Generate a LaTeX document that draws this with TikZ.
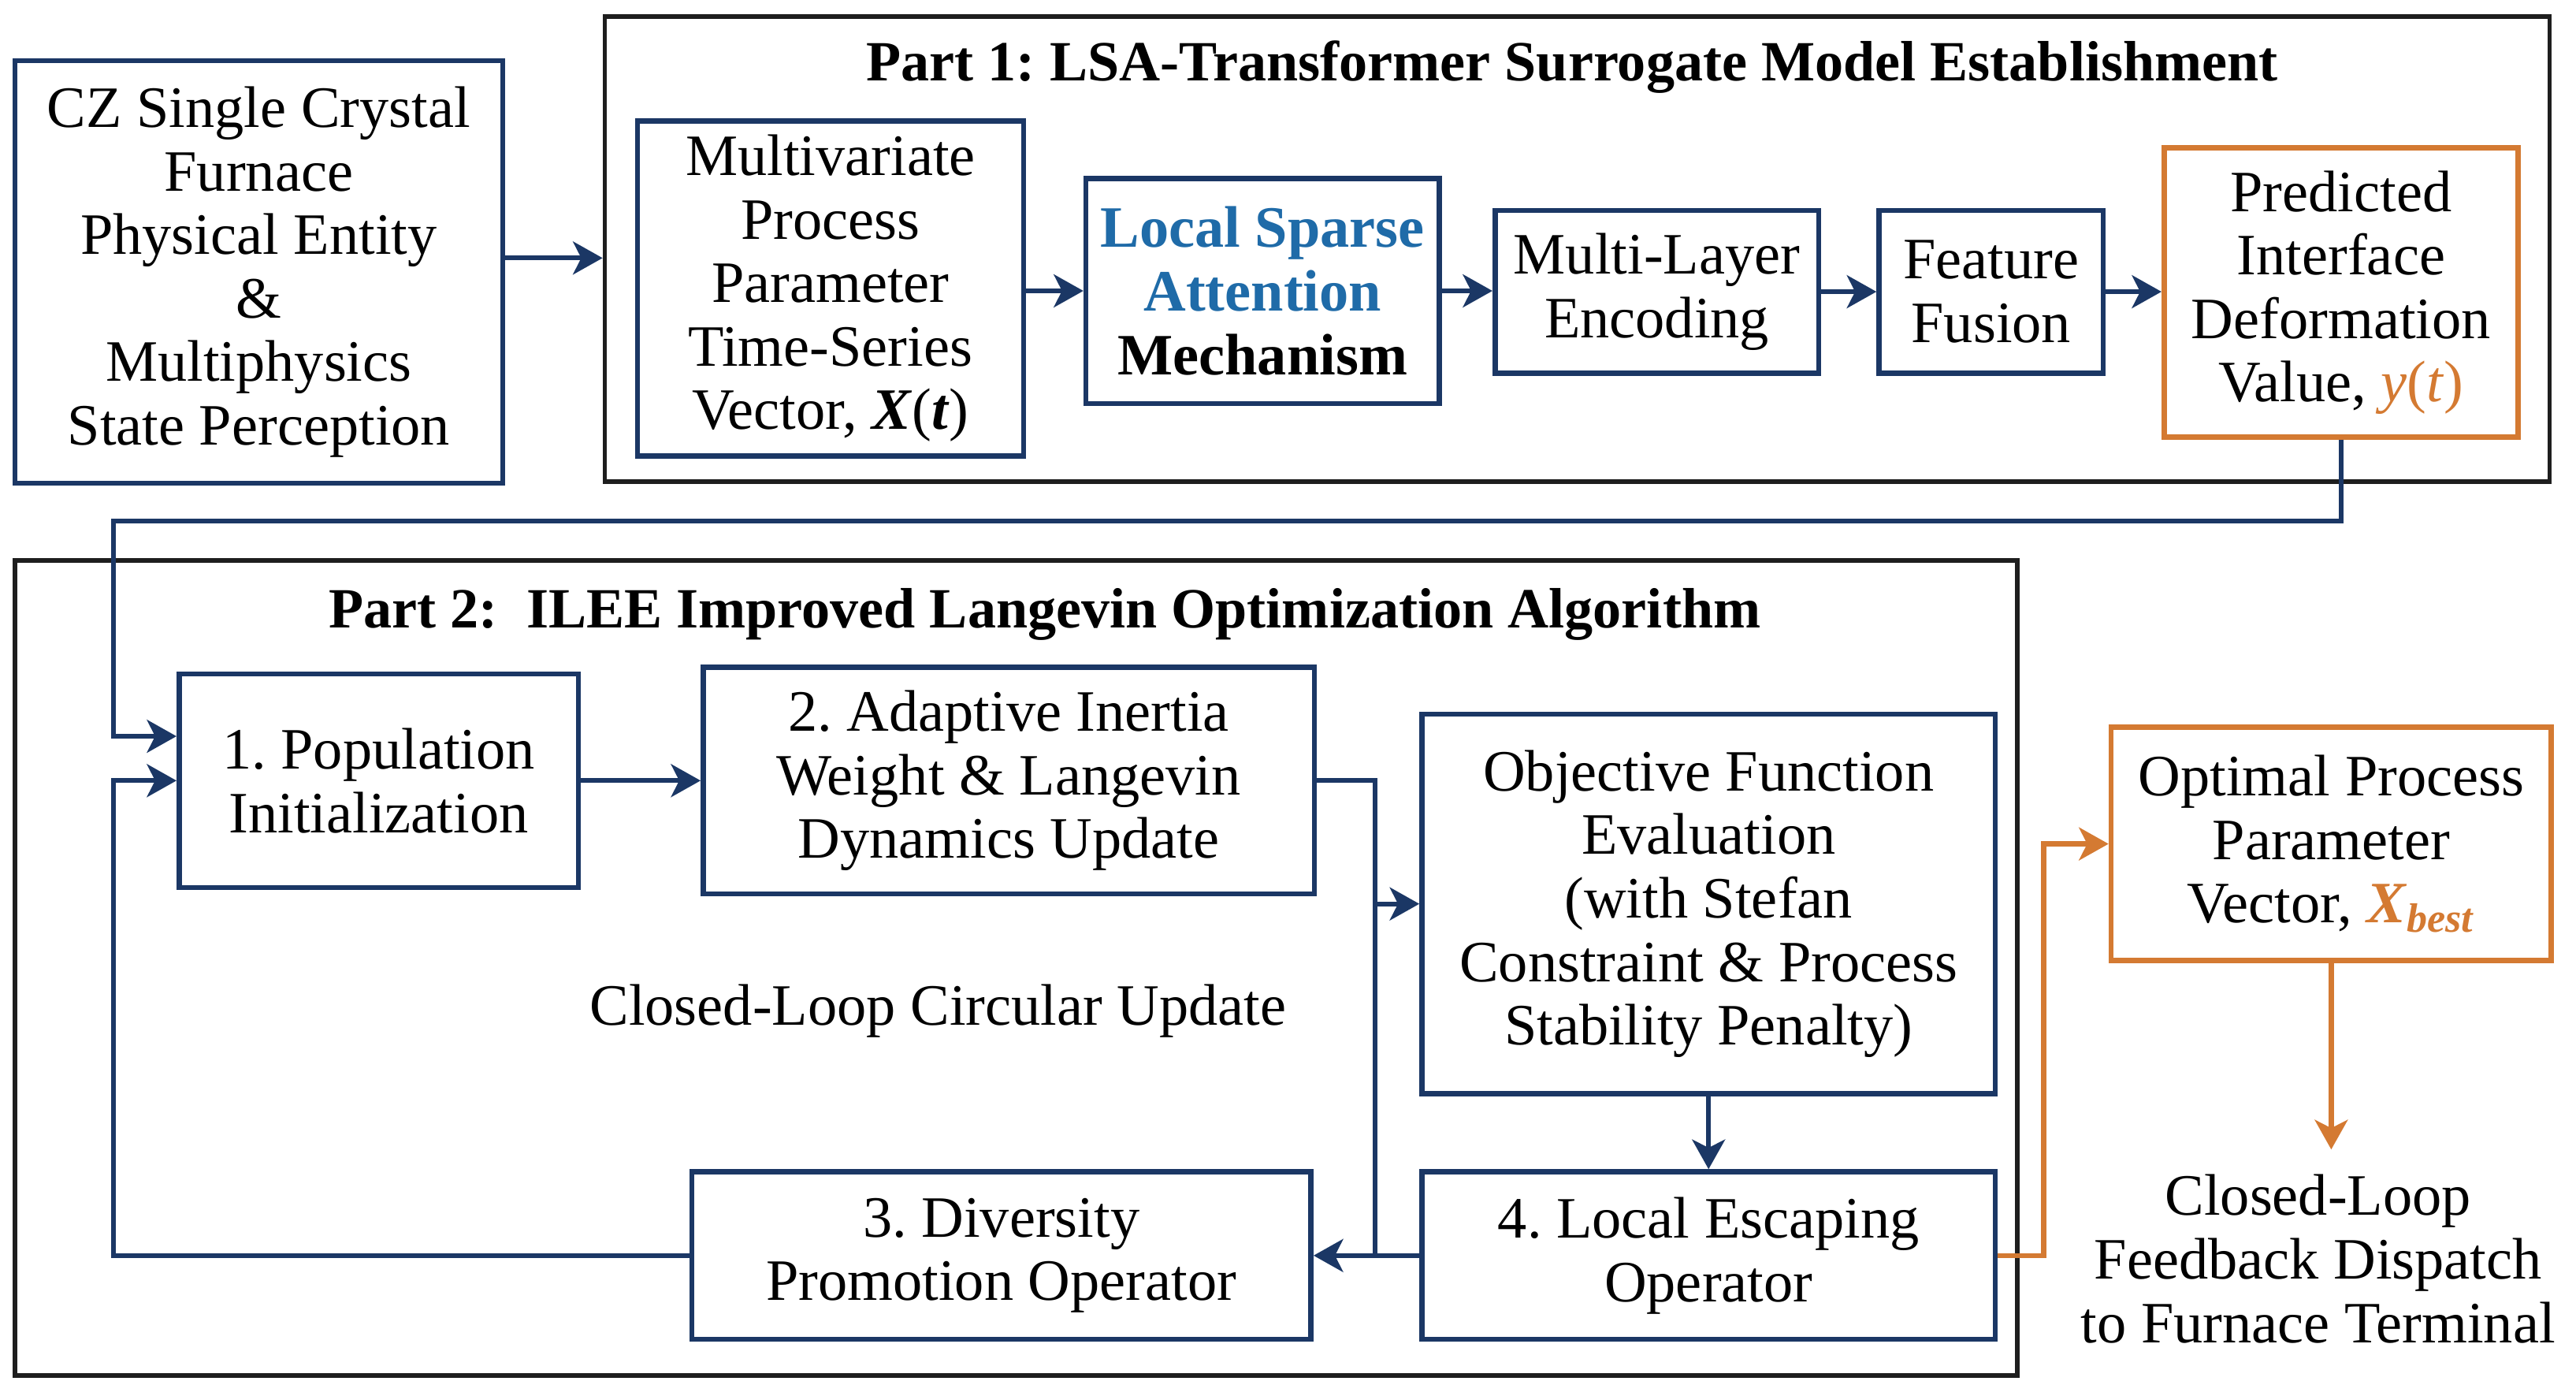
\documentclass[tikz,border=0pt]{standalone}
\usepackage{fontspec}
\setmainfont{Liberation Serif}
\frenchspacing
\usetikzlibrary{arrows.meta}
\definecolor{navy}{HTML}{1B3765}
\definecolor{orng}{HTML}{D47A32}
\definecolor{lsablue}{HTML}{1F6BA8}
\definecolor{framec}{HTML}{1E1E1E}
\tikzset{
  bx/.style={draw=navy, line width=1.8pt, fill=white, align=center, inner sep=0pt,
             font=\fontsize{20.3}{22}\selectfont},
  obx/.style={bx, draw=orng},
  frm/.style={draw=framec, line width=1.5pt, inner sep=0pt},
  conn/.style={draw=navy, line width=1.7pt},
  arr/.style={conn, -{Stealth[length=0.36cm,width=0.4cm,inset=0.1cm]}},
  oarr/.style={draw=orng, line width=1.7pt, -{Stealth[length=0.36cm,width=0.4cm,inset=0.1cm]}},
  ttl/.style={font=\bfseries\fontsize{19.7}{22}\selectfont, inner sep=0pt},
  txt/.style={font=\fontsize{20.3}{22}\selectfont, align=center, inner sep=0pt}
}
\begin{document}
\begin{tikzpicture}[x=0.02cm,y=-0.02cm]
\useasboundingbox (0,0) rectangle (1568,849);
% frames
\node[frm, minimum width=23.68cm, minimum height=5.66cm] (p1) at (960,151.5) {};
\node[frm, minimum width=24.38cm, minimum height=9.92cm] (p2) at (618.5,589) {};
\node[ttl] (t1) at (957,41) {Part 1: LSA-Transformer Surrogate Model Establishment};
\node[ttl] (t2) at (636,374) {Part 2:\ \ ILEE Improved Langevin Optimization Algorithm};
% part 0
\node[bx, minimum width=5.94cm, minimum height=5.14cm] (cz) at (157.5,165.5)
  {CZ Single Crystal\\Furnace\\Physical Entity\\\&\\Multiphysics\\State Perception};
% part 1 boxes
\node[bx, minimum width=4.70cm, minimum height=4.08cm] (mv) at (505.5,175.5)
  {Multivariate\\Process\\Parameter\\Time-Series\\Vector, \textbf{\textit{X}}(\textbf{\textit{t}})};
\node[bx, minimum width=4.30cm, minimum height=2.74cm, font=\bfseries\fontsize{20.3}{22}\selectfont] (lsa) at (768.5,177)
  {\textcolor{lsablue}{Local Sparse}\\\textcolor{lsablue}{Attention}\\Mechanism};
\node[bx, minimum width=3.94cm, minimum height=1.98cm] (mle) at (1008.5,177.5)
  {Multi-Layer\\Encoding};
\node[bx, minimum width=2.73cm, minimum height=1.98cm] (ff) at (1212,177.5)
  {Feature\\Fusion};
\node[obx, minimum width=4.31cm, minimum height=3.52cm] (pred) at (1425,178)
  {Predicted\\Interface\\Deformation\\Value, \textcolor{orng}{\textit{y}(\textit{t})}};
% part 2 boxes
\node[bx, minimum width=4.86cm, minimum height=2.60cm] (pop) at (230.5,475)
  {1. Population\\Initialization};
\node[bx, minimum width=7.44cm, minimum height=2.76cm] (ada) at (614,475)
  {2. Adaptive Inertia\\Weight \& Langevin\\Dynamics Update};
\node[bx, minimum width=6.98cm, minimum height=4.62cm] (obj) at (1040,550)
  {Objective Function\\Evaluation\\(with Stefan\\Constraint \& Process\\Stability Penalty)};
\node[bx, minimum width=7.54cm, minimum height=2.04cm] (div) at (609.5,764)
  {3. Diversity\\Promotion Operator};
\node[bx, minimum width=6.98cm, minimum height=2.04cm] (les) at (1040,764)
  {4. Local Escaping\\Operator};
\node[obx, minimum width=5.36cm, minimum height=2.84cm] (opt) at (1419,513.5)
  {Optimal Process\\Parameter\\Vector, \textcolor{orng}{\textbf{\textit{X}}\textsubscript{\textbf{\textit{best}}}}};
\node[txt, inner sep=0.3cm] (fb) at (1411,766)
  {Closed-Loop\\Feedback Dispatch\\to Furnace Terminal};
\node[txt] (circ) at (571,615) {Closed-Loop Circular Update};
% connectors
\coordinate (c1) at ([yshift=0.17cm]cz.east);
\draw[arr] (c1) -- (c1 -| p1.west);
\draw[arr] (lsa.west -| mv.east) -- (lsa.west);
\draw[arr] (lsa.east) -- (lsa.east -| mle.west);
\draw[arr] (mle.east) -- (ff.west);
\draw[arr] (ff.east) -- (ff.east -| pred.west);
\coordinate (turnA) at (69,317);
\coordinate (inA) at ([yshift=0.54cm]pop.west);
\draw[arr] (pred.south) |- (turnA) |- (inA);
\draw[arr] (div.west) -- (div.west -| turnA) |- (pop.west);
\draw[arr] (pop.east) -- (ada.west);
\coordinate (vx) at (837,0);
\draw[arr] (ada.east) -| (vx |- obj.west) -- (obj.west);
\draw[conn] (vx |- obj.west) -- (vx |- les.west);
\draw[arr] (les.west) -- (div.east);
\draw[arr] (obj.south) -- (les.north);
\coordinate (ox) at (1244,0);
\draw[oarr] (les.east) -| (ox |- opt.west) -- (opt.west);
\draw[oarr] (opt.south) -- (opt.south |- fb.north);
\end{tikzpicture}
\end{document}
